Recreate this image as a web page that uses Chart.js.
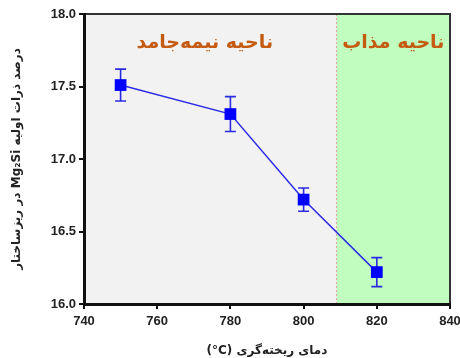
<!DOCTYPE html>
<html>
<head>
<meta charset="utf-8">
<script src="https://cdn.jsdelivr.net/npm/chart.js@4"></script>
<style>
  html, body { margin: 0; padding: 0; background: #fff; }
  #wrap { width: 460px; height: 358px; }
</style>
</head>
<body>
<div id="wrap"><canvas id="c" width="460" height="358" dir="rtl"></canvas></div>
<script>
// Casting temperature (°C) and primary Mg2Si fraction (%) with error
const temperatures = [750, 780, 800, 820];
const primaryMg2Si = [17.51, 17.31, 16.72, 16.22];
const errorMg2Si = [0.11, 0.12, 0.08, 0.10];

// Boundary between the semi-solid and the liquid region
const liquidStart = 809;
const regionLabels = ['ناحیه نیمه‌جامد', 'ناحیه مذاب'];
const regionLabelX = [773, 824.5];
const regionLabelY = 17.8;

const xTitle = 'دمای ریخته‌گری \u200E(°C)\u200E';
const yTitle = 'درصد ذرات اولیه Mg₂Si در ریزساختار';

const regionPlugin = {
  id: 'regions',
  beforeDraw(chart) {
    const { ctx, chartArea: a, scales: { x, y } } = chart;
    const xb = x.getPixelForValue(liquidStart);
    ctx.save();
    ctx.fillStyle = '#f2f2f2';
    ctx.fillRect(a.left, a.top, xb - a.left, a.bottom - a.top);
    ctx.fillStyle = '#c0fdbf';
    ctx.fillRect(xb, a.top, a.right - xb, a.bottom - a.top);
    ctx.strokeStyle = '#e2a2a0';
    ctx.lineWidth = 1;
    ctx.setLineDash([2, 2]);
    ctx.beginPath();
    ctx.moveTo(xb, a.top);
    ctx.lineTo(xb, a.bottom);
    ctx.stroke();
    ctx.setLineDash([]);
    // frame on the top and right
    ctx.strokeStyle = '#333';
    ctx.lineWidth = 2;
    ctx.beginPath();
    ctx.moveTo(a.left, a.top);
    ctx.lineTo(a.right, a.top);
    ctx.lineTo(a.right, a.bottom);
    ctx.stroke();
    // region names
    ctx.fillStyle = '#c55a11';
    ctx.font = 'bold 19px "DejaVu Sans"';
    ctx.textAlign = 'center';
    ctx.textBaseline = 'middle';
    regionLabels.forEach((t, i) => {
      ctx.fillText(t, x.getPixelForValue(regionLabelX[i]), y.getPixelForValue(regionLabelY));
    });
    ctx.restore();
  },
  beforeDatasetsDraw(chart) {
    const { ctx, scales: { x, y } } = chart;
    ctx.save();
    ctx.strokeStyle = '#2a2ae0';
    ctx.lineWidth = 1.6;
    const cap = 5.5;
    temperatures.forEach((t, i) => {
      const px = x.getPixelForValue(t);
      const top = y.getPixelForValue(primaryMg2Si[i] + errorMg2Si[i]);
      const bot = y.getPixelForValue(primaryMg2Si[i] - errorMg2Si[i]);
      ctx.beginPath();
      ctx.moveTo(px, top); ctx.lineTo(px, bot);
      ctx.moveTo(px - cap, top); ctx.lineTo(px + cap, top);
      ctx.moveTo(px - cap, bot); ctx.lineTo(px + cap, bot);
      ctx.stroke();
    });
    ctx.restore();
  }
};

new Chart(document.getElementById('c'), {
  type: 'line',
  data: {
    datasets: [{
      data: temperatures.map((t, i) => ({ x: t, y: primaryMg2Si[i] })),
      borderColor: '#2b2be6',
      borderWidth: 1.5,
      backgroundColor: '#0000ff',
      pointStyle: 'rect',
      pointRadius: 8.3,
      pointBorderWidth: 0,
      tension: 0
    }]
  },
  options: {
    responsive: false,
    animation: false,
    layout: { padding: { top: 14, right: 10, left: 10, bottom: 0 } },
    plugins: { legend: { display: false }, tooltip: { enabled: false } },
    scales: {
      x: {
        type: 'linear',
        min: 740, max: 840,
        ticks: {
          stepSize: 20,
          color: '#222',
          font: { family: 'Liberation Sans', size: 13, weight: 'bold' },
          padding: 5
        },
        grid: { drawOnChartArea: false, tickLength: 5, color: '#111', lineWidth: 2 },
        border: { color: '#111', width: 3 },
        title: {
          display: true,
          text: xTitle,
          color: '#222',
          font: { family: 'DejaVu Sans', size: 12, weight: 'bold' },
          padding: { top: 6, bottom: 0 }
        },
        afterFit(s) { s.height = 54; s.paddingLeft = 0; s.paddingRight = 0; }
      },
      y: {
        min: 16, max: 18,
        ticks: {
          stepSize: 0.5,
          color: '#222',
          font: { family: 'Liberation Sans', size: 13, weight: 'bold' },
          padding: 3,
          callback: v => v.toFixed(1)
        },
        grid: { drawOnChartArea: false, tickLength: 5, color: '#111', lineWidth: 2 },
        border: { color: '#111', width: 3 },
        title: {
          display: true,
          text: yTitle,
          color: '#222',
          font: { family: 'DejaVu Sans', size: 12, weight: 'bold' },
          padding: { top: 0, bottom: 10 }
        },
        afterFit(s) { s.width = 74; s.paddingTop = 0; s.paddingBottom = 0; }
      }
    }
  },
  plugins: [regionPlugin]
});
</script>
</body>
</html>
